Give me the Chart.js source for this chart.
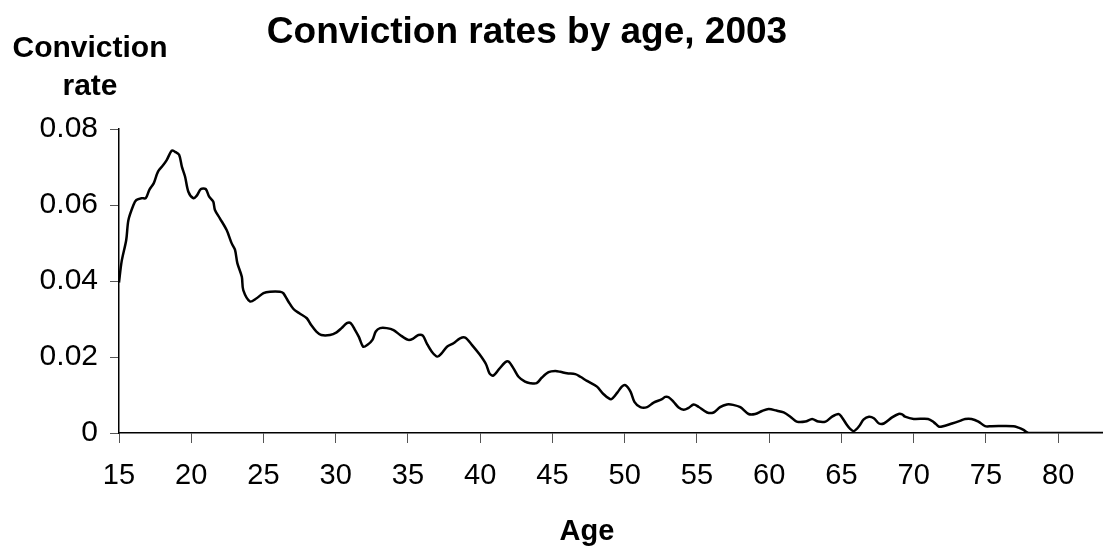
<!DOCTYPE html>
<html>
<head>
<meta charset="utf-8">
<script src="https://cdn.jsdelivr.net/npm/chart.js@4/dist/chart.umd.min.js"></script>
<style>
  html, body { margin: 0; padding: 0; background: #fff; }
  #wrap { width: 1103px; height: 548px; position: relative; }
</style>
</head>
<body>
<div id="wrap"><canvas id="grafico"></canvas></div>
<script>
const titulo = 'Conviction rates by age, 2003';
const tituloY = ['Conviction', 'rate'];
const tituloX = 'Age';

const idades = [
    15.0, 15.18, 15.5, 15.65, 16.0, 16.2, 16.56, 16.85, 17.1, 17.4, 17.7, 18.06, 18.3, 18.65, 18.88,
    19.16, 19.35, 19.57, 19.8, 20.14, 20.37, 20.67, 21.0, 21.24, 21.52, 21.64, 21.98, 22.45, 22.8,
    23.03, 23.19, 23.5, 23.6, 24.07, 24.5, 25.0, 25.45, 26.14, 26.37, 26.72, 27.06, 27.48, 28.0,
    28.3, 28.66, 29.0, 29.6, 30.06, 30.4, 30.77, 31.04, 31.34, 31.6, 31.9, 32.2, 32.54, 32.77,
    33.07, 33.53, 34.0, 34.45, 35.03, 35.38, 35.72, 36.03, 36.3, 36.65, 37.04, 37.34, 37.7, 38.15,
    38.6, 38.96, 39.42, 39.95, 40.4, 40.64, 40.9, 41.3, 41.73, 41.96, 42.3, 42.65, 43.1, 43.46,
    43.9, 44.27, 44.73, 45.19, 45.54, 46.0, 46.58, 46.93, 47.39, 48.08, 48.54, 49.05, 49.5, 49.8,
    50.04, 50.4, 50.67, 51.08, 51.55, 52.0, 52.58, 52.8, 53.04, 53.38, 53.73, 54.08, 54.42, 54.77,
    55.1, 55.7, 56.15, 56.6, 57.07, 57.5, 58.0, 58.57, 59.03, 59.5, 59.96, 60.5, 61.0, 61.46,
    61.9, 62.5, 62.97, 63.4, 63.9, 64.35, 64.8, 65.0, 65.38, 65.6, 65.85, 66.2, 66.54, 66.9,
    67.24, 67.6, 67.93, 68.5, 68.95, 69.2, 69.4, 70.0, 71.0, 71.4, 71.74, 71.96, 72.65, 73.2,
    73.56, 74.0, 74.48, 74.94, 75.4, 76.9, 77.25, 77.6, 77.95, 80.0, 83.1
];

const taxas = [
    0.0396, 0.0451, 0.0508, 0.0560, 0.0600, 0.0613, 0.0618, 0.0618, 0.0640, 0.0657, 0.0688, 0.0705, 0.0718, 0.0743, 0.0740,
    0.0732, 0.0701, 0.0675, 0.0635, 0.0618, 0.0624, 0.0642, 0.0642, 0.0622, 0.0609, 0.0587, 0.0565, 0.0534, 0.0499,
    0.0482, 0.0447, 0.0411, 0.0376, 0.0346, 0.0354, 0.0368, 0.0372, 0.0372, 0.0368, 0.0346, 0.0327, 0.0315, 0.0302,
    0.0284, 0.0267, 0.0258, 0.0258, 0.0265, 0.0276, 0.0289, 0.0289, 0.0271, 0.0253, 0.0227, 0.0232, 0.0245, 0.0267,
    0.0276, 0.0276, 0.0271, 0.0258, 0.0245, 0.0249, 0.0258, 0.0256, 0.0236, 0.0214, 0.0201, 0.0210, 0.0227, 0.0236,
    0.0249, 0.0251, 0.0232, 0.0207, 0.0181, 0.0157, 0.0151, 0.0168, 0.0186, 0.0188, 0.0170, 0.0148, 0.0135, 0.0131,
    0.0131, 0.0146, 0.0160, 0.0163, 0.0161, 0.0157, 0.0155, 0.0148, 0.0137, 0.0122, 0.0102, 0.0089, 0.0107, 0.0122,
    0.0126, 0.0109, 0.0082, 0.0068, 0.0068, 0.0080, 0.0089, 0.0095, 0.0094, 0.0082, 0.0067, 0.0061, 0.0066, 0.0075,
    0.0069, 0.0054, 0.0054, 0.0068, 0.0075, 0.0074, 0.0068, 0.0050, 0.0050, 0.0058, 0.0063, 0.0059, 0.0054, 0.0043,
    0.0030, 0.0030, 0.0037, 0.0030, 0.0030, 0.0043, 0.0050, 0.0043, 0.0021, 0.0011, 0.0005, 0.0017, 0.0036, 0.0043,
    0.0039, 0.0025, 0.0025, 0.0041, 0.0050, 0.0049, 0.0043, 0.0037, 0.0037, 0.0028, 0.0017, 0.0017, 0.0025, 0.0032,
    0.0037, 0.0037, 0.0030, 0.0018, 0.0018, 0.0018, 0.0014, 0.0008, 0.0000, 0.0000, 0.0000
];

const ticksX = [15, 20, 25, 30, 35, 40, 45, 50, 55, 60, 65, 70, 75, 80];
const ticksY = [0, 0.02, 0.04, 0.06, 0.08];

const fonte = "'Liberation Sans', Arial, sans-serif";

// textos fora do eixo (titulo e titulos dos eixos, como no original)
const textosPlugin = {
    id: 'textos',
    afterDraw(chart) {
        const ctx = chart.ctx;
        ctx.save();
        ctx.fillStyle = '#000';
        ctx.textAlign = 'center';
        ctx.textBaseline = 'alphabetic';
        ctx.font = 'bold 37px ' + fonte;
        ctx.fillText(titulo, 527, 43);
        ctx.font = 'bold 30px ' + fonte;
        ctx.fillText(tituloY[0], 90, 57);
        ctx.fillText(tituloY[1], 90, 95);
        ctx.font = 'bold 29px ' + fonte;
        ctx.fillText(tituloX, 587, 540);
        ctx.restore();
    }
};

const divGrafico = document.getElementById('grafico').getContext('2d');

const grafico = new Chart(divGrafico, {
    type: 'line',
    data: {
        datasets: [
            {
                label: 'Conviction rate',
                data: idades.map((a, i) => ({ x: a, y: taxas[i] })),
                borderColor: '#000',
                borderWidth: 2.5,
                pointRadius: 0,
                fill: false,
                tension: 0.3,
            }
        ]
    },
    options: {
        responsive: true,
        maintainAspectRatio: false,
        animation: false,
        layout: {
            padding: { top: 129, left: 0, right: 0, bottom: 0 }
        },
        plugins: {
            legend: { display: false },
            title: { display: false },
            tooltip: { enabled: false }
        },
        scales: {
            x: {
                type: 'linear',
                min: 15,
                max: 83.1,
                afterBuildTicks: (scale) => {
                    scale.ticks = ticksX.map(v => ({ value: v }));
                },
                afterFit: (scale) => { scale.height = 115; },
                border: { color: '#000', width: 1.5 },
                grid: {
                    drawOnChartArea: false,
                    drawTicks: true,
                    tickLength: 10,
                    color: '#555',
                },
                ticks: {
                    color: '#000',
                    font: { family: fonte, size: 29 },
                    padding: 16,
                    maxRotation: 0,
                    autoSkip: false,
                }
            },
            y: {
                min: 0,
                max: 0.08,
                afterBuildTicks: (scale) => {
                    scale.ticks = ticksY.map(v => ({ value: v }));
                },
                afterFit: (scale) => { scale.width = 119; },
                border: { color: '#000', width: 1.5 },
                grid: {
                    drawOnChartArea: false,
                    drawTicks: true,
                    tickLength: 9,
                    color: '#555',
                },
                ticks: {
                    color: '#000',
                    font: { family: fonte, size: 30 },
                    padding: 12,
                    callback: (v) => v === 0 ? '0' : v.toFixed(2),
                }
            }
        }
    },
    plugins: [textosPlugin]
});
</script>
</body>
</html>
